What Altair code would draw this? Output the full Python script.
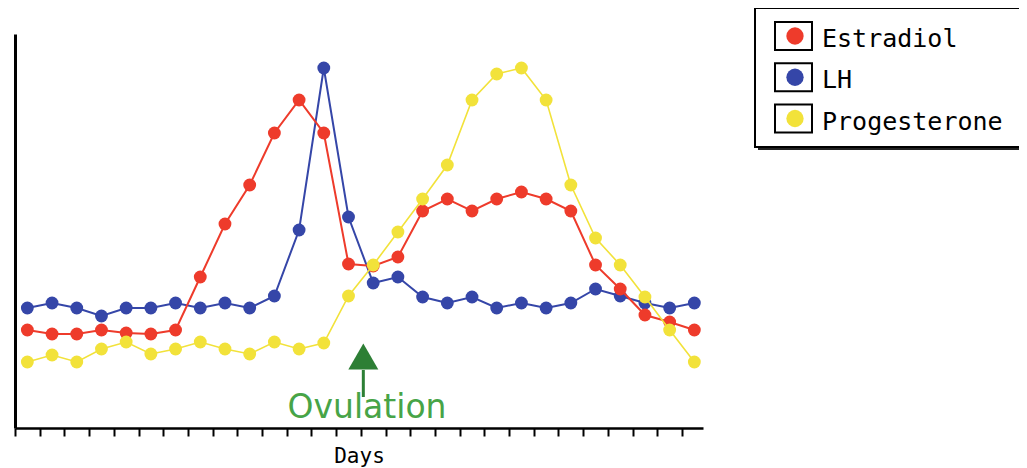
import altair as alt
import pandas as pd

# ---------------- data (relative hormone levels) ----------------
days = list(range(1, 29))
estradiol = [98, 94, 94, 98, 95, 94, 98, 151, 204, 243, 295, 328, 295, 164,
             162, 171, 217, 229, 217, 229, 236, 229, 217, 163, 139, 113, 106, 98]
lh = [120, 125, 120, 112, 120, 120, 125, 120, 125, 120, 132, 198, 360, 211,
      145, 151, 131, 125, 131, 120, 125, 120, 125, 139, 132, 125, 120, 125]
progesterone = [66, 73, 66, 79, 86, 74, 79, 86, 79, 74, 86, 79, 85, 132,
                163, 196, 229, 263, 328, 354, 360, 328, 243, 190, 163, 131, 98, 66]

series_names = ["Estradiol", "LH", "Progesterone"]
series_colors = ["#ee3b2b", "#3546a8", "#f2e23a"]
series_values = {"Estradiol": estradiol, "LH": lh, "Progesterone": progesterone}
draw_order = ["LH", "Estradiol", "Progesterone"]

tick_days = [d - 0.5 for d in days]

ovulation_day = [14.6]
ovulation_label_day = [14.75]
ovulation_label = ["Ovulation"]
arrow_tail = [31]
arrow_neck = [58]
arrow_head_mid = [71.5]
label_level = [20]

# ---------------- scales / shared encodings ----------------
xscale = alt.Scale(domain=[0.5, 28.35], nice=False, zero=False)
yscale = alt.Scale(domain=[0, 394], nice=False, zero=False)

x_enc = alt.X(
    "day:Q",
    scale=xscale,
    axis=alt.Axis(
        values=tick_days, labels=False, grid=False,
        tickSize=8, tickWidth=2, tickColor="black",
        domainColor="black", domainWidth=2.5,
        title="Days", titleFont="DejaVu Sans Mono", titleFontSize=21,
        titleFontWeight="normal", titleColor="black", titlePadding=8,
    ),
)
y_axis = alt.Axis(title="", labels=False, ticks=False, grid=False,
                  domainColor="black", domainWidth=3)
y_enc = alt.Y("value:Q", scale=yscale, axis=y_axis)

color_of = dict(zip(series_names, series_colors))
widths = {"LH": 2, "Estradiol": 2, "Progesterone": 1.6}

layers = []
for name in draw_order:
    df = pd.DataFrame({"day": days, "value": series_values[name]})
    base = alt.Chart(df).encode(x=x_enc, y=y_enc)
    layers.append(base.mark_line(color=color_of[name], strokeWidth=widths[name]))
    layers.append(base.mark_point(shape="circle", filled=True, opacity=1,
                                  color=color_of[name], size=165))

# ---------------- ovulation arrow + label ----------------
ov = pd.DataFrame({"day": ovulation_day, "tail": arrow_tail, "neck": arrow_neck,
                   "head": arrow_head_mid})
ov_rule = alt.Chart(ov).mark_rule(color="#2d7f35", strokeWidth=3).encode(
    x=x_enc, y=alt.Y("tail:Q", scale=yscale, axis=y_axis), y2="neck:Q")
ov_head = alt.Chart(ov).mark_point(shape="triangle-up", filled=True, opacity=1,
                                   color="#2d7f35", size=900).encode(
    x=x_enc, y=alt.Y("head:Q", scale=yscale, axis=y_axis))
ov_lab = pd.DataFrame({"day": ovulation_label_day, "value": label_level, "label": ovulation_label})
ov_text = alt.Chart(ov_lab).mark_text(font="DejaVu Sans", fontSize=33, color="#47a447",
                                      align="center", baseline="middle").encode(
    x=x_enc, y=y_enc, text="label:N")

main = alt.layer(*layers, ov_rule, ov_head, ov_text)

# ---------------- legend (boxed symbols) ----------------
leg = pd.DataFrame({"name": series_names, "color": series_colors, "idx": [0, 1, 2]})
frame = pd.DataFrame({"k": [0]})
shadow = alt.Chart(frame).mark_rect(fill="#222222").encode(
    x=alt.value(743), x2=alt.value(1030), y=alt.value(-23), y2=alt.value(116))
box = alt.Chart(frame).mark_rect(fill="white", stroke="black", strokeWidth=2).encode(
    x=alt.value(740), x2=alt.value(1027), y=alt.value(-26), y2=alt.value(113))
leg_y = alt.Y("idx:Q", scale=alt.Scale(domain=[0, 2], range=[2, 84.5]), axis=None)
sym_box = alt.Chart(leg).mark_point(
    shape="M-1,-0.757L1,-0.757L1,0.757L-1,0.757Z", filled=False, stroke="black",
    strokeWidth=2, size=1369, opacity=1).encode(x=alt.value(778.5), y=leg_y)
sym_dot = alt.Chart(leg).mark_point(shape="circle", filled=True, opacity=1, size=300).encode(
    x=alt.value(780), y=leg_y, color=alt.Color("color:N", scale=None))
sym_txt = alt.Chart(leg).mark_text(font="DejaVu Sans Mono", fontSize=25, color="black",
                                   align="left", baseline="middle", dy=3).encode(
    x=alt.value(807), y=leg_y, text="name:N")
legend = alt.layer(shadow, box, sym_box, sym_dot, sym_txt)

chart = alt.layer(main, legend).resolve_scale(y="independent").properties(
    width=688, height=394,
    padding={"left": 7, "top": 26, "right": 316, "bottom": 40},
    autosize=alt.AutoSizeParams(type="none"),
).configure_view(strokeWidth=0)

chart.save("out.html", embed_options={"renderer": "svg", "actions": False})
